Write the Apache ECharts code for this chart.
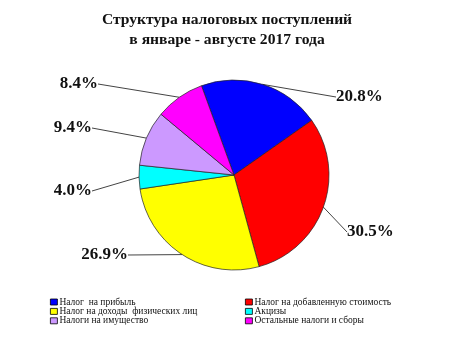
<!DOCTYPE html>
<html>
<head>
<meta charset="utf-8">
<script src="https://cdn.jsdelivr.net/npm/echarts@6/dist/echarts.min.js"></script>
<style>
html,body{margin:0;padding:0;background:#fff;}
#c{width:450px;height:342px;}
</style>
</head>
<body>
<div id="c"></div>
<script>
// ---- data ----
var categories = [
  'Налог  на прибыль',
  'Налог на добавленную стоимость',
  'Налог на доходы  физических лиц',
  'Акцизы',
  'Налоги на имущество',
  'Остальные налоги и сборы'
];
var shares = [20.8, 30.5, 26.9, 4.0, 9.4, 8.4];
var titleLines = ['Структура налоговых поступлений', 'в январе - августе 2017 года'];

// ---- style / layout (not data) ----
var colors = ['#0000ff', '#ff0000', '#ffff00', '#00ffff', '#cc99ff', '#ff00ff'];
// label anchor positions: [x, y, align]
var labelAnchor = [
  [333, 97, 'left'],
  [344, 232, 'left'],
  [131, 255, 'right'],
  [95, 191, 'right'],
  [95, 128, 'right'],
  [101, 84, 'right']
];

var chart = echarts.init(document.getElementById('c'), null, {renderer: 'canvas'});
var serif = '"Liberation Serif", "Times New Roman", serif';

var data = categories.map(function (n, i) {
  return {name: n, value: shares[i], itemStyle: {color: colors[i]}};
});

var leftNames = [categories[0], categories[2], categories[4]];
var rightNames = [categories[1], categories[3], categories[5]];

function legend(names, left) {
  return {
    data: names,
    orient: 'vertical',
    left: left,
    top: 297,
    padding: 0,
    itemWidth: 7,
    itemHeight: 6,
    itemGap: -0.6,
    icon: 'rect',
    itemStyle: {borderColor: '#000', borderWidth: 0.8},
    textStyle: {fontFamily: serif, fontSize: 9.5, lineHeight: 8, color: '#111', padding: [0, 0, 0, -3]},
    selectedMode: false
  };
}

chart.setOption({
  backgroundColor: '#fff',
  animation: false,
  color: colors,
  title: {
    text: titleLines.join('\n'),
    left: 222,
    top: 5,
    padding: [5, 5],
    textAlign: 'center',
    textStyle: {fontFamily: serif, fontWeight: 'bold', fontSize: 15.6, lineHeight: 20, color: '#111'}
  },
  legend: [legend(leftNames, 50), legend(rightNames, 245)],
  series: [{
    type: 'pie',
    center: [234, 175],
    radius: 95,
    startAngle: 110,
    clockwise: true,
    avoidLabelOverlap: false,
    data: data,
    itemStyle: {borderColor: '#222', borderWidth: 0.7},
    label: {
      show: true,
      position: 'outside',
      formatter: function (p) { return p.value.toFixed(1) + '%'; },
      fontFamily: serif,
      fontWeight: 'bold',
      fontSize: 17,
      color: '#111',
      padding: [0, 3]
    },
    labelLine: {show: true, length: 10, length2: 0, lineStyle: {color: '#444', width: 1}},
    labelLayout: function (p) {
      var a = labelAnchor[p.dataIndex];
      return {x: a[0], y: a[1], align: a[2], verticalAlign: 'middle'};
    },
    emphasis: {disabled: true}
  }]
});
</script>
</body>
</html>
